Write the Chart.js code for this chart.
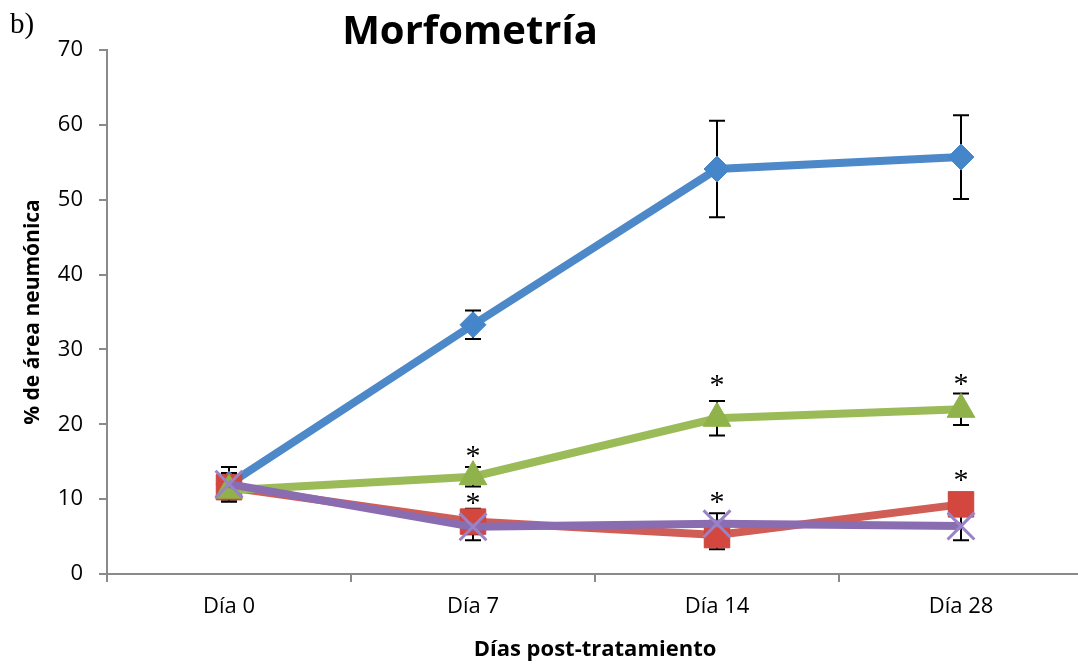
<!DOCTYPE html>
<html>
<head>
<meta charset="utf-8">
<script src="https://cdn.jsdelivr.net/npm/chart.js@4/dist/chart.umd.min.js"></script>
<style>
  html, body { margin: 0; padding: 0; background: #fff; overflow: hidden; }
  #wrap { width: 1090px; height: 664px; }
</style>
</head>
<body>
<div id="wrap"><canvas id="c" width="1090" height="664"></canvas></div>
<script>
// Days after treatment
const categories = ['Día 0', 'Día 7', 'Día 14', 'Día 28'];

// Mean % pneumonic area per group
const serieAzul    = [12.0, 33.3, 54.1, 55.7];
const serieRoja    = [11.6, 7.0, 5.2, 9.3];
const serieVerde   = [11.2, 13.0, 20.8, 22.0];
const serieMorada  = [12.0, 6.3, 6.7, 6.4];

// Standard deviations (error bars)
const sdAzul   = [2.3, 1.9, 6.45, 5.6];
const sdRoja   = [1.5, 1.7, 1.9, 1.5];
const sdVerde  = [1.5, 1.3, 2.3, 2.1];
const sdMorada = [1.5, 1.8, 1.4, 1.9];

// Significance marks: category and height on the value axis
const asteriscoDia   = ['Día 7', 'Día 7', 'Día 14', 'Día 14', 'Día 28', 'Día 28'];
const asteriscoValor = [16.3, 10.0, 25.8, 10.2, 25.9, 13.1];

const yTicks = [0, 10, 20, 30, 40, 50, 60, 70];

const FONT = '"Open Sans", Lato, sans-serif';
const AXIS_GRAY = '#8a8a8a';

// Error bars drawn beneath the series
const errorBars = {
  id: 'errorBars',
  beforeDatasetsDraw(chart) {
    const { ctx, scales: { x, y } } = chart;
    ctx.save();
    ctx.strokeStyle = '#000';
    ctx.lineWidth = 2;
    chart.data.datasets.forEach(ds => {
      ds.data.forEach((v, i) => {
        const e = ds.sd[i];
        const px = x.getPixelForValue(i);
        const top = y.getPixelForValue(v + e);
        const bot = y.getPixelForValue(v - e);
        ctx.beginPath();
        ctx.moveTo(px, top); ctx.lineTo(px, bot);
        ctx.moveTo(px - 8, top); ctx.lineTo(px + 8, top);
        ctx.moveTo(px - 8, bot); ctx.lineTo(px + 8, bot);
        ctx.stroke();
      });
    });
    ctx.restore();
  }
};

// Asterisks, panel letter and heading
const annotations = {
  id: 'annotations',
  afterDraw(chart) {
    const { ctx, scales: { x, y } } = chart;
    ctx.save();
    ctx.fillStyle = '#000';
    ctx.textAlign = 'center';
    ctx.textBaseline = 'middle';
    ctx.font = '30px "Liberation Serif", "DejaVu Serif", serif';
    asteriscoDia.forEach((d, i) => {
      const px = x.getPixelForValue(categories.indexOf(d));
      const py = y.getPixelForValue(asteriscoValor[i]);
      ctx.fillText('*', px, py + 5);
    });
    ctx.textAlign = 'left';
    ctx.textBaseline = 'alphabetic';
    ctx.font = '29px "Liberation Serif", "DejaVu Serif", serif';
    ctx.fillText('b)', 10, 33);
    ctx.textAlign = 'center';
    ctx.font = 'bold 40px ' + FONT;
    ctx.fillText('Morfometría', 470, 44);
    ctx.restore();
  }
};

new Chart(document.getElementById('c'), {
  type: 'line',
  data: {
    labels: categories,
    datasets: [
      {
        label: 'Azul', data: serieAzul, sd: sdAzul, order: 4,
        borderColor: '#4d88c8', borderWidth: 8,
        pointStyle: 'rectRot', pointRadius: 13,
        pointBackgroundColor: '#4585c9', pointBorderColor: '#4585c9', pointBorderWidth: 1
      },
      {
        label: 'Roja', data: serieRoja, sd: sdRoja, order: 3,
        borderColor: '#d05e57', borderWidth: 8,
        pointStyle: 'rect', pointRadius: 18,
        pointBackgroundColor: '#d4473f', pointBorderColor: '#c9443d', pointBorderWidth: 1
      },
      {
        label: 'Verde', data: serieVerde, sd: sdVerde, order: 2,
        borderColor: '#9bbb59', borderWidth: 8,
        pointStyle: 'triangle', pointRadius: 16,
        pointBackgroundColor: '#8fb24a', pointBorderColor: '#8fb24a', pointBorderWidth: 1
      },
      {
        label: 'Morada', data: serieMorada, sd: sdMorada, order: 1,
        borderColor: '#8a6cb1', borderWidth: 8,
        pointStyle: 'crossRot', pointRadius: 19,
        pointBackgroundColor: '#9a82c6', pointBorderColor: '#9a82c6', pointBorderWidth: 3
      }
    ]
  },
  options: {
    responsive: false,
    animation: false,
    devicePixelRatio: 1,
    layout: { autoPadding: false, padding: { top: 50, right: 7, left: 0, bottom: 0 } },
    elements: { line: { tension: 0 } },
    plugins: {
      legend: { display: false },
      tooltip: { enabled: false },
      title: { display: false }
    },
    scales: {
      x: {
        offset: true,
        grid: {
          offset: true, drawOnChartArea: false, drawTicks: true,
          tickLength: 8, color: AXIS_GRAY, lineWidth: 2
        },
        border: { color: AXIS_GRAY, width: 2 },
        ticks: { color: '#000', font: { family: FONT, size: 22 }, padding: 12, maxRotation: 0 },
        title: {
          display: true, text: 'Días post-tratamiento', color: '#000',
          font: { family: FONT, size: 22, weight: 'bold' }, padding: { top: 0, bottom: 1 }
        },
        afterFit(scale) { scale.height = 90; }
      },
      y: {
        min: 0, max: 70,
        afterBuildTicks(scale) { scale.ticks = yTicks.map(v => ({ value: v })); },
        grid: {
          drawOnChartArea: false, drawTicks: true,
          tickLength: 8, color: AXIS_GRAY, lineWidth: 2
        },
        border: { color: AXIS_GRAY, width: 2 },
        ticks: { color: '#000', font: { family: FONT, size: 22 }, padding: 16 },
        title: {
          display: true, text: '% de área neumónica', color: '#000',
          font: { family: FONT, size: 21, weight: 'bold' }, padding: { top: 20, bottom: 0 }
        },
        afterFit(scale) { scale.width = 107; }
      }
    }
  },
  plugins: [errorBars, annotations]
});
</script>
</body>
</html>
